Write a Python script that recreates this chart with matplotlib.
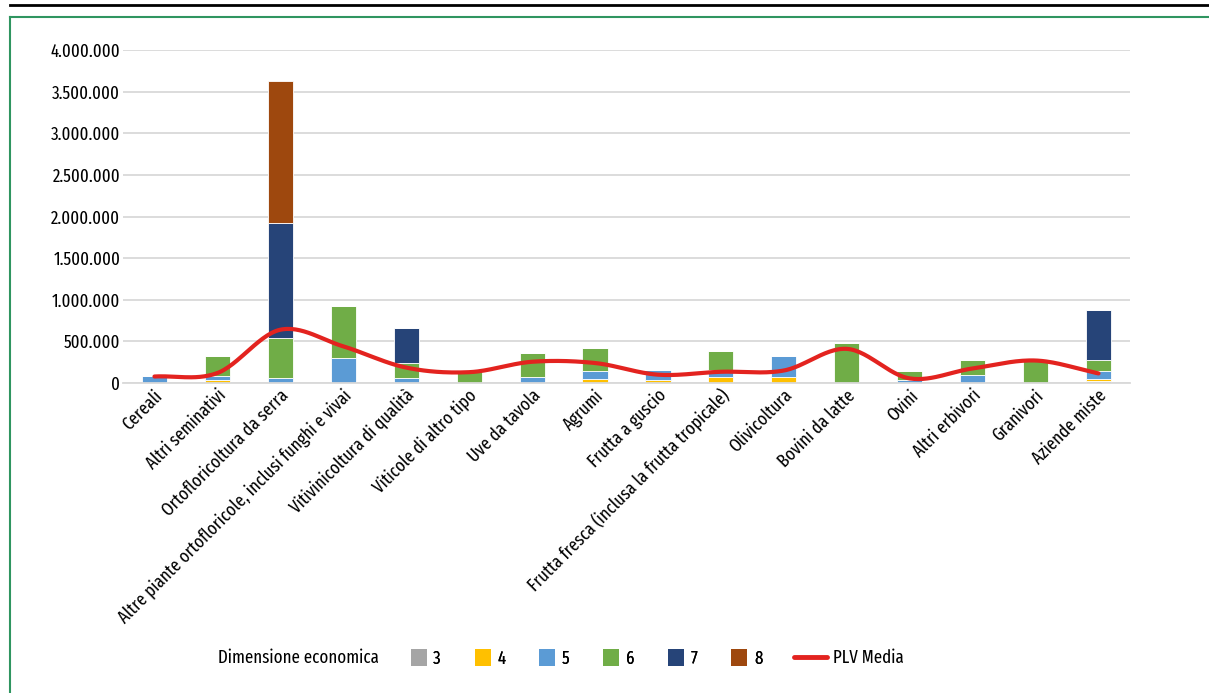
import matplotlib
matplotlib.use("Agg")
import matplotlib.pyplot as plt
from matplotlib.lines import Line2D
from matplotlib.patches import Patch
from matplotlib.ticker import FuncFormatter
from matplotlib.transforms import ScaledTranslation
import numpy as np

plt.rcParams['font.family'] = ['Fira Sans Extra Condensed', 'DejaVu Sans']

categories = ["Cereali", "Altri seminativi", "Ortofloricoltura da serra",
              "Altre piante ortofloricole, inclusi funghi e vivai",
              "Vitivinicoltura di qualità", "Viticole di altro tipo",
              "Uve da tavola", "Agrumi", "Frutta a guscio",
              "Frutta fresca (inclusa la frutta tropicale)", "Olivicoltura",
              "Bovini da latte", "Ovini", "Altri erbivori", "Granivori",
              "Aziende miste"]

# stacked values per classe di dimensione economica
dim3 = [0, 0, 0, 0, 0, 0, 0, 0, 0, 0, 0, 0, 0, 0, 0, 20000]
dim4 = [0, 35000, 0, 0, 0, 0, 0, 52000, 37000, 78000, 78000, 0, 0, 0, 0, 32000]
dim5 = [80000, 55000, 55000, 300000, 55000, 0, 72000, 88000, 121000, 82000, 242000, 0, 40000, 98000, 0, 88000]
dim6 = [0, 230000, 490000, 625000, 190000, 160000, 288000, 280000, 0, 220000, 0, 480000, 100000, 182000, 280000, 140000]
dim7 = [0, 0, 1380000, 0, 417000, 0, 0, 0, 0, 0, 0, 0, 0, 0, 0, 600000]
dim8 = [0, 0, 1700000, 0, 0, 0, 0, 0, 0, 0, 0, 0, 0, 0, 0, 0]
plv_media = [78000, 120000, 640000, 440000, 185000, 130000, 255000, 240000,
             100000, 135000, 150000, 410000, 55000, 175000, 270000, 115000]

series = [("3", dim3, "#a5a5a5"), ("4", dim4, "#ffc000"), ("5", dim5, "#5b9bd5"),
          ("6", dim6, "#70ad47"), ("7", dim7, "#264478"), ("8", dim8, "#9e480e")]
red = "#e3231f"


def catmull_rom(x, y, n=30):
    px = np.concatenate([[2 * x[0] - x[1]], x, [2 * x[-1] - x[-2]]])
    py = np.concatenate([[2 * y[0] - y[1]], y, [2 * y[-1] - y[-2]]])
    xs, ys = [], []
    t = np.linspace(0, 1, n)
    for i in range(1, len(px) - 2):
        for p, out in ((px, xs), (py, ys)):
            p0, p1, p2, p3 = p[i - 1], p[i], p[i + 1], p[i + 2]
            out.extend(0.5 * ((2 * p1) + (-p0 + p2) * t +
                              (2 * p0 - 5 * p1 + 4 * p2 - p3) * t ** 2 +
                              (-p0 + 3 * p1 - 3 * p2 + p3) * t ** 3))
    return np.array(xs), np.array(ys)


fig = plt.figure(figsize=(12.09, 6.93), dpi=100)
ax = fig.add_axes([123 / 1209, 1 - 383 / 693, (1130 - 123) / 1209, (383 - 50) / 693])

x = np.arange(len(categories))
bottom = np.zeros(len(categories))
for name, vals, col in series:
    vals = np.array(vals)
    ax.bar(x, vals, 0.4, bottom=bottom, color=col, edgecolor="white", linewidth=0.6, zorder=2)
    bottom += vals

sx, sy = catmull_rom(x.astype(float), np.array(plv_media, dtype=float))
ax.plot(sx, sy, color=red, linewidth=3, solid_capstyle="round", zorder=3)

ax.set_xlim(-0.5, len(categories) - 0.5)
ax.set_ylim(0, 4000000)
ax.set_yticks(np.arange(0, 4000001, 500000))
ax.yaxis.set_major_formatter(FuncFormatter(lambda v, p: f"{int(v):,}".replace(",", ".")))
ax.grid(axis="y", color="#d9d9d9", linewidth=1.3, zorder=0)
ax.set_axisbelow(True)
for s in ["top", "right", "left"]:
    ax.spines[s].set_visible(False)
ax.spines["bottom"].set_color("#d9d9d9")
ax.spines["bottom"].set_linewidth(1.3)
ax.tick_params(axis="both", length=0, colors="black")
ax.tick_params(axis="y", pad=2, labelsize=13.2)
ax.tick_params(axis="x", pad=7)
ax.set_xticks(x)
ax.set_xticklabels(categories, rotation=45, ha="right", va="center",
                   rotation_mode="anchor", fontsize=13.2)
shift = ScaledTranslation(4 / 72, 0, fig.dpi_scale_trans)
for lab in ax.get_xticklabels():
    lab.set_transform(lab.get_transform() + shift)

# legend
ly = 1 - 658 / 693
fig.text(218 / 1209, ly, "Dimensione economica", fontsize=13.2, va="center", ha="left")
handles = [Patch(facecolor=c, edgecolor="none") for _, _, c in series]
labels = [n for n, _, _ in series]
leg1 = fig.legend(handles, labels, loc="center left", bbox_to_anchor=(394 / 1209, ly),
                  ncol=6, frameon=False, fontsize=13.2, handlelength=0.88, handleheight=1.05,
                  handletextpad=0.35, columnspacing=1.85)
fig.legend([Line2D([0], [0], color=red, linewidth=3.5, solid_capstyle="round")], ["PLV Media"],
           loc="center left", bbox_to_anchor=(777 / 1209, ly), frameon=False, fontsize=13.2,
           handlelength=1.8, handletextpad=0.35)
fig.add_artist(leg1)

# page decoration: top rule and green frame
fig.add_artist(Line2D([10 / 1209, 1], [1 - 5 / 693, 1 - 5 / 693], color="black", linewidth=2))
fig.add_artist(Line2D([10 / 1209, 1], [1 - 17 / 693, 1 - 17 / 693], color="#2f9560", linewidth=1.5))
fig.add_artist(Line2D([10 / 1209, 10 / 1209], [1 - 17 / 693, 0], color="#2f9560", linewidth=1.5))

fig.savefig("out.png", dpi=100)
